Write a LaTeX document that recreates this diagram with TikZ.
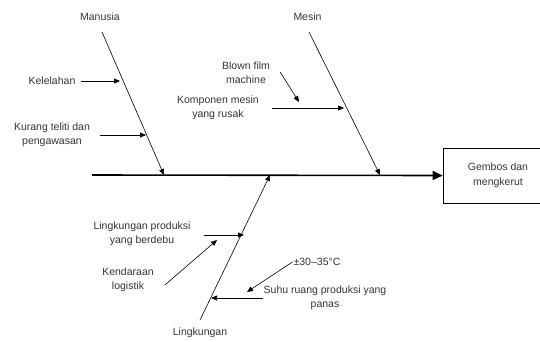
\documentclass[tikz,border=0pt]{standalone}
\usepackage{fontspec}
\setmainfont{Liberation Sans}
\usetikzlibrary{arrows.meta}
\tikzset{t/.style={align=center,font=\fontsize{10.5}{14}\selectfont,text=black!80,inner sep=1pt},
 bx/.style={draw,line width=0.6pt,minimum width=110,minimum height=55,inner sep=2pt,align=center,font=\fontsize{10.5}{15}\selectfont,text=black!80},
 bn/.style={line width=0.6pt,-{Triangle[length=6pt,width=5pt]}},
 ar/.style={line width=0.6pt,-{Triangle[length=6pt,width=5pt]}},
 sp/.style={line width=1.6pt,-{Triangle[length=10pt,width=9pt]}}}
\begin{document}
\begin{tikzpicture}[x=1pt,y=-1pt]
\useasboundingbox (0,0) rectangle (540,341);
\node[t](man) at (100,17){Manusia};\node[t](mes) at (307.5,17){Mesin};\node[t](lin) at (200,333){Lingkungan};
\node[bx](eff) at (498,175.5){Gembos dan\\mengkerut};
\node[t](kel) at (52,81){Kelelahan};\node[t](kur) at (52,135){Kurang teliti dan\\pengawasan};
\node[t](bfm) at (246,73){Blown film\\machine};\node[t](kmp) at (218,108){Komponen mesin\\yang rusak};
\node[t](lpd) at (142,234){Lingkungan produksi\\yang berdebu};\node[t](kdr) at (128,280){Kendaraan\\logistik};
\node[t](tmp) at (317,262){±30–35°C};\node[t](suh) at (325,298){Suhu ruang produksi yang\\panas};
\coordinate(sp0) at (92,175);
\coordinate(m0) at (102,32);\coordinate(m1) at (164,175);
\coordinate(s0) at (309,32);\coordinate(s1) at (380,175);
\coordinate(l0) at (200,320);\coordinate(l1) at (270,175);
\coordinate(k1) at (120,81);\coordinate(k2) at (146,135);\coordinate(b1) at (299,102);\coordinate(b2) at (344,108);
\coordinate(d1) at (244,235);\coordinate(d2) at (217,240);\coordinate(t1) at (247,292);\coordinate(t2) at (211,298);
\draw[sp](sp0)--(eff.west);
\draw[bn](m0)--(m1);\draw[bn](s0)--(s1);\draw[bn](l0)--(l1);
\draw[ar,shorten <=4pt](kel.east)--(k1);\draw[ar,shorten <=9pt](kur.east|-k2)--(k2);
\draw[ar]([xshift=9pt,yshift=1pt]bfm.east)--(b1);\draw[ar,shorten <=12pt](kmp.east|-b2)--(b2);
\draw[ar,shorten <=12pt](lpd.east|-d1)--(d1);\draw[ar]([xshift=10pt,yshift=-5pt]kdr.east)--(d2);
\draw[ar](tmp.west)--(t1);\draw[ar](suh.west)--(t2);
\end{tikzpicture}
\end{document}
